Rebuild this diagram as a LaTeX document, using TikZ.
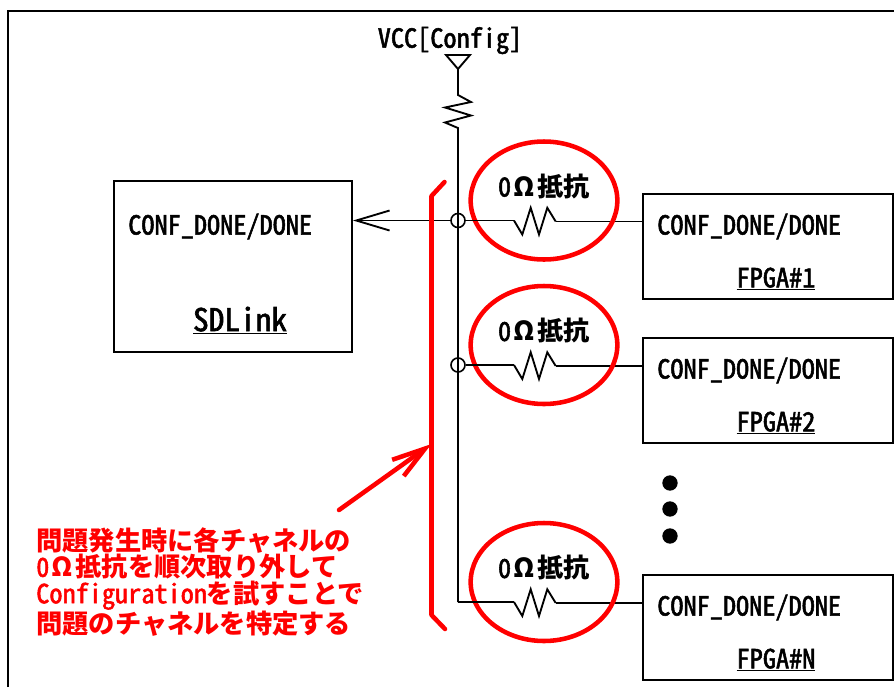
\documentclass[tikz,border=0pt]{standalone}
\usepackage{fontspec}
\usetikzlibrary{arrows.meta,shapes.geometric}
\newfontfamily\hanfont[CharacterWidth=Half,FakeBold=2]{Noto Sans CJK JP}
\newfontfamily\zenfont{Noto Sans CJK JP}
\newcommand{\zen}[1]{{\zenfont\bfseries #1}}
\newcommand{\han}[1]{{\hanfont\mdseries #1}}
\newcommand{\omg}{\makebox[1em]{Ω}}
\newcommand{\ohm}{\han{0}\zen{\omg 抵抗}}
\makeatletter
\newcommand{\cells}[1]{\@tfor\ch:=#1\do{\makebox[.5em]{\ch}}}
\makeatother
\tikzset{
  box/.style={draw,line width=1.5pt,rectangle,minimum width=187pt,minimum height=78.75pt},
  boxtext/.style={inner sep=0pt,anchor=west,yshift=-1.1pt,font=\hanfont\fontsize{19.7}{20}\selectfont},
  ring/.style={draw=red,line width=3.4pt,ellipse,minimum width=110pt,minimum height=88.5pt},
  hole/.style={draw,line width=1.2pt,circle,minimum size=10.5pt,inner sep=0pt},
  blob/.style={fill,circle,minimum size=11.5pt,inner sep=0pt},
  wire/.style={line width=1.4pt},
  redline/.style={draw=red,line width=3.4pt,line cap=round}
}
\begin{document}
\begin{tikzpicture}[x=0.75pt,y=-0.75pt]
\useasboundingbox (0,0) rectangle (894,687);
\draw[line width=1.5pt] (8,687) -- (8,10.5) -- (894,10.5);
% main blocks
\node [box,minimum width=178.5pt,minimum height=128.25pt] (sdlink) at (233,266.5) {};
\node [boxtext] (sdconf) at (128,225) {CONF\_DONE/DONE};
\node [boxtext,anchor=center,font=\hanfont\fontsize{23.5}{24}\selectfont] (sdname) at (240,319) {\underline{\cells{SDLink}}};
\foreach \name/\y/\num in {a/194/1,b/338/2,c/575/N}{
  \node [box] (fpga\name) at (768,\y+52.5) {};
  \node [boxtext] (conf\name) at (657,\y+31) {CONF\_DONE/DONE};
  \node [boxtext,anchor=center] (tag\name) at (776,\y+83.5) {\underline{FPGA\#\num}};
}
% supply
\node [boxtext,anchor=center] (vcc) at (450,39) {\cells{VCC}[\cells{Config}]};
\coordinate (pin) at (458,69);
\coordinate (top) at (458,95);
\coordinate (bottom) at (458,128);
\coordinate (corner) at (458,602);
\draw[wire,line join=miter] (pin) -- ++(-12,-14) -- ++(24,0) -- cycle;
\draw[wire] (pin) -- (top) -- ++(13,7) -- ++(-26,5.5) -- ++(26,8) -- ++(-26,7) -- (bottom) -- (corner);
% channels
\foreach \name/\y in {a/220.5,b/365,c/602}{
  \coordinate (res\name) at (514,\y);
  \draw[wire] (res\name) -- ++(8.3,14) -- ++(8.4,-26.7) -- ++(8.3,26.7) -- ++(8.3,-26.7) -- ++(8.4,13.7) coordinate (out\name);
  \draw[wire] (out\name) -- (out\name -| fpga\name.west);
  \node [ring] (ring\name) at (544,\y-20) {};
  \node [boxtext,anchor=center] (ohm\name) at (544,\y-35.5) {\ohm};
}
\node [hole] (joina) at (458,220.5) {};
\node [hole] (joinb) at (458,365) {};
\draw[wire] (corner) -- (resc);
\draw[wire] (joinb) -- (resb);
\draw[wire] (resa) -- (joina);
\draw[wire,-{Straight Barb[length=25pt,width=15pt]}] (joina) -- (joina -| sdlink.east);
\foreach \y in {483,509,536}
  \node [blob] at (670,\y) {};
% red note
\coordinate (brace1) at (444.5,182);
\coordinate (brace2) at (431.5,196);
\coordinate (brace3) at (431.5,615);
\coordinate (brace4) at (445,629);
\draw[redline,line join=round] (brace1) -- (brace2) -- (brace3) -- (brace4);
\coordinate (tail) at (339,510);
\coordinate (tip) at (431.5,444);
\draw[redline,-{Straight Barb[length=25pt,width=15pt]}] (tail) -- (tip);
\node [boxtext,text=red,align=left,font=\zenfont\bfseries\fontsize{19.7}{19.8}\selectfont] (note) at (36,580.5)
  {問題発生時に各チャネルの\\\han{0}\omg 抵抗を順次取り外して\\\han{\cells{Configuration}}を試すことで\\問題のチャネルを特定する};
\end{tikzpicture}
\end{document}
